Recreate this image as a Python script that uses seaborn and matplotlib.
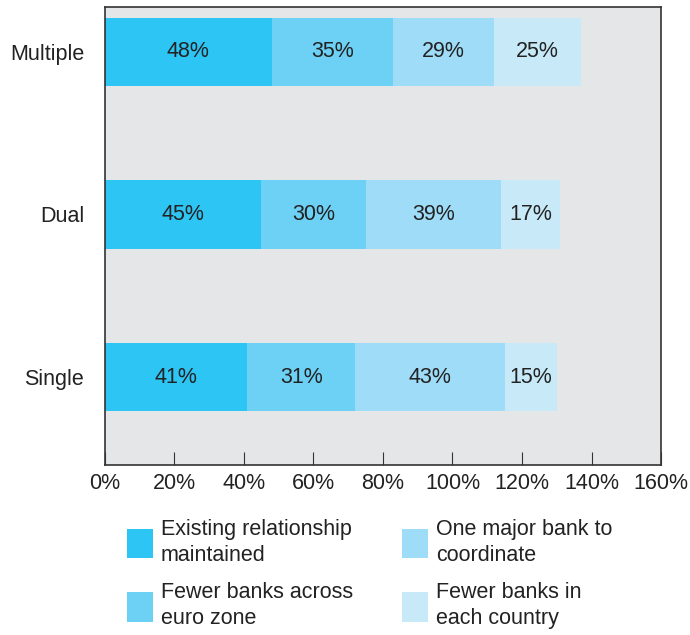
import matplotlib
matplotlib.use("Agg")
import matplotlib.pyplot as plt
import seaborn as sns
import numpy as np
import pandas as pd
from matplotlib.patches import Patch

sns.set_theme(style="white")
plt.rcParams["font.family"] = ["Liberation Sans", "DejaVu Sans"]

categories = ["Multiple", "Dual", "Single"]
series_names = [
    "Existing relationship\nmaintained",
    "Fewer banks across\neuro zone",
    "One major bank to\ncoordinate",
    "Fewer banks in\neach country",
]
existing = [48, 45, 41]
fewer_euro = [35, 30, 31]
one_major = [29, 39, 43]
fewer_country = [25, 17, 15]
colors = ["#2DC5F4", "#6DD0F5", "#9EDCF7", "#C7E9F8"]
tick_values = [0, 20, 40, 60, 80, 100, 120, 140, 160]

FS = 15.5
TXT = "#222222"

series = [existing, fewer_euro, one_major, fewer_country]
df = pd.DataFrame({"category": categories})
cum = np.zeros(len(categories))
starts = []
for name, vals in zip(series_names, series):
    starts.append(cum.copy())
    cum = cum + np.array(vals)
    df[name] = cum.copy()

fig = plt.figure(figsize=(6.9, 6.35), dpi=100)
ax = fig.add_axes([0.152, 0.268, 0.806, 0.721])
ax.set_facecolor("#E5E6E8")

# stack by drawing cumulative totals from the outermost segment inwards
for name, col in reversed(list(zip(series_names, colors))):
    sns.barplot(data=df, y="category", x=name, color=col, orient="h",
                width=0.42, ax=ax, saturation=1, linewidth=0, order=categories)

for vals, st in zip(series, starts):
    for i, (v, s) in enumerate(zip(vals, st)):
        ax.text(s + v / 2, i, f"{v}%", ha="center", va="center",
                fontsize=FS, color=TXT)

ax.set_xlim(0, 160)
ax.set_ylim(2.54, -0.276)
ax.set_xticks(tick_values)
ax.set_xticklabels([f"{t}%" for t in tick_values], fontsize=FS, color=TXT)
ax.tick_params(axis="x", direction="in", length=9.5, width=0.8, color="#333333", pad=6, bottom=True)
ax.tick_params(axis="y", length=0, labelsize=FS, labelcolor=TXT, pad=15)
ax.set_xlabel("")
ax.set_ylabel("")
for sp in ax.spines.values():
    sp.set_visible(True)
    sp.set_color("#333333")
    sp.set_linewidth(1.2)

handles = [Patch(facecolor=c, edgecolor="none") for c in colors]
leg = fig.legend(handles, series_names, ncol=2, loc="upper left",
                 bbox_to_anchor=(127 / 690, 1 - 519 / 635), frameon=False, fontsize=FS,
                 borderpad=0, borderaxespad=0,
                 handlelength=1.2, handleheight=1.75, handletextpad=0.37,
                 columnspacing=2.3, labelspacing=0.75, labelcolor=TXT)
for t in leg.get_texts():
    t.set_linespacing(1.32)

fig.savefig("out.png", dpi=100)
